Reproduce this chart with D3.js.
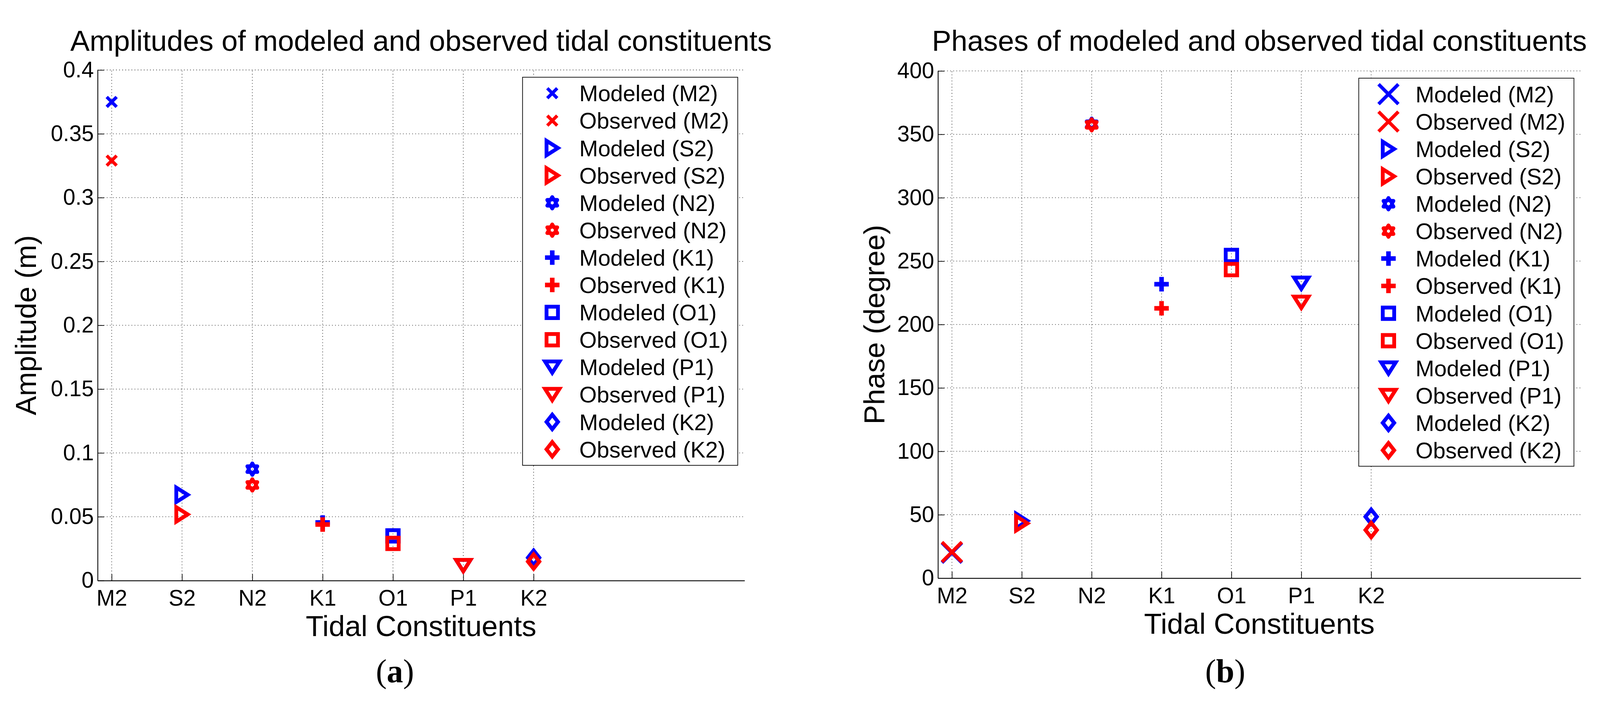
<!DOCTYPE html>
<html>
<head>
<meta charset="utf-8">
<script src="https://cdn.jsdelivr.net/npm/d3@7"></script>
<style>
html, body { margin: 0; padding: 0; background: #fff; overflow: hidden; }
#tideSvg { display: block; width: 100vw; height: 100vh; }
svg text { font-family: "Liberation Sans", Arial, sans-serif; fill: #000; }
.grid line { stroke: #000; stroke-width: 1.6; stroke-dasharray: 1.6,6.5; }
.axis path.domain { stroke: #000; stroke-width: 2.2; }
.axis .tick line { stroke: #000; stroke-width: 1.8; }
.mark { fill: none; }
</style>
</head>
<body>
<div class="tides"></div>
<script>
// tidal constituents, in plotting order
var categories = ["M2", "S2", "N2", "K1", "O1", "P1", "K2"];
var markerTypes = ["x", "triRight", "hexagram", "plus", "square", "triDown", "diamond"];

// amplitudes (m)
var ampModeled  = [0.375, 0.0672, 0.0873, 0.0455, 0.0350, 0.0117, 0.0179];
var ampObserved = [0.329, 0.0518, 0.0749, 0.0439, 0.0291, 0.0117, 0.0149];
var ampTicks = [0, 0.05, 0.1, 0.15, 0.2, 0.25, 0.3, 0.35, 0.4];
var ampTickLabels = ["0", "0.05", "0.1", "0.15", "0.2", "0.25", "0.3", "0.35", "0.4"];

// phases (degree)
var phaseModeled  = [20.0, 45.2, 358.0, 231.8, 254.5, 232.5, 48.4];
var phaseObserved = [20.6, 43.2, 357.5, 212.8, 243.3, 217.5, 37.9];
var phaseTicks = [0, 50, 100, 150, 200, 250, 300, 350, 400];
var phaseTickLabels = ["0", "50", "100", "150", "200", "250", "300", "350", "400"];

var colModeled = "#0000ff",
colObserved = "#ff0000";

var svg = d3.select("div.tides")
	.append("svg")
	.attr("viewBox", "0 0 4201 1812")
	.attr("preserveAspectRatio", "xMidYMid meet")
	.attr("id", "tideSvg");

// marker outlines, MATLAB style
var markerPath = function(type, big) {
	if (type == "x") {
		var h = big ? 26 : 13;
		return "M" + (-h) + "," + (-h) + "L" + h + "," + h + "M" + (-h) + "," + h + "L" + h + "," + (-h);
	}
	if (type == "plus") return "M-19,0L19,0M0,-19L0,19";
	if (type == "square") return "M-15,-15H15V15H-15Z";
	if (type == "triRight") return "M-15,-19L15,0L-15,19Z";
	if (type == "triDown") return "M-19,-15L19,-15L0,15Z";
	if (type == "diamond") return "M0,-19L15,0L0,19L-15,0Z";
	if (type == "hexagram") {
		var pts = [];
		for (var k = 0; k < 12; k++) {
			var r = k % 2 == 0 ? 15 : 15 / Math.sqrt(3);
			var a = -Math.PI / 2 + k * Math.PI / 6;
			pts.push([r * Math.cos(a), r * Math.sin(a)]);
		}
		return "M" + pts.map(function(p) { return p[0].toFixed(2) + "," + p[1].toFixed(2); }).join("L") + "Z";
	}
};

var markerStroke = function(type, big) {
	if (type == "x") return big ? 9 : 8.5;
	if (type == "plus") return 12;
	if (type == "hexagram") return 10;
	return 10;
};

var drawMarker = function(sel, type, color, big) {
	sel.append("path")
		.attr("d", markerPath(type, big))
		.attr("stroke", color)
		.attr("stroke-width", markerStroke(type, big))
		.attr("stroke-linejoin", type == "hexagram" ? "round" : "miter")
		.attr("stroke-linecap", "butt")
		.attr("class", "mark");
};

var buildPanel = function(p) {
	var g = svg.append("g");
	var gridLayer = g.append("g").attr("class", "grid");
	var axisLayer = g.append("g");
	var markLayer = g.append("g");
	var legendLayer = g.append("g");

	var x = d3.scaleLinear()
		.domain([0.8, 10])
		.range([p.left, p.right]);
	var y = d3.scaleLinear()
		.domain([p.ticks[0], p.ticks[p.ticks.length - 1]])
		.range([p.bottom, p.top]);
	var catIdx = d3.range(1, categories.length + 1);

	gridLayer.selectAll(".hgrid")
		.data(p.ticks.slice(1))
		.enter().append("line")
		.attr("x1", p.left)
		.attr("x2", p.right)
		.attr("y1", y)
		.attr("y2", y);
	gridLayer.selectAll(".vgrid")
		.data(catIdx)
		.enter().append("line")
		.attr("x1", x)
		.attr("x2", x)
		.attr("y1", p.bottom)
		.attr("y2", p.top);

	axisLayer.append("g")
		.attr("class", "axis")
		.attr("transform", "translate(0," + p.bottom + ")")
		.call(d3.axisBottom(x)
			.tickValues(catIdx)
			.tickFormat(function(d) { return categories[d - 1]; })
			.tickSizeInner(-17)
			.tickSizeOuter(0)
			.tickPadding(25));
	axisLayer.append("g")
		.attr("class", "axis")
		.attr("transform", "translate(" + p.left + ",0)")
		.call(d3.axisLeft(y)
			.tickValues(p.ticks)
			.tickFormat(function(d, i) { return p.tickLabels[i]; })
			.tickSizeInner(-17)
			.tickSizeOuter(0)
			.tickPadding(10));
	axisLayer.selectAll(".axis")
		.attr("font-size", 58)
		.attr("font-family", null);

	// one modeled + one observed marker per constituent, observed drawn on top
	categories.forEach(function(c, i) {
		var big = p.bigX && markerTypes[i] == "x";
		drawMarker(markLayer.append("g")
			.attr("transform", "translate(" + x(i + 1) + "," + y(p.modeled[i]) + ")"),
			markerTypes[i], colModeled, big);
		drawMarker(markLayer.append("g")
			.attr("transform", "translate(" + x(i + 1) + "," + y(p.observed[i]) + ")"),
			markerTypes[i], colObserved, big);
	});

	g.append("text")
		.attr("x", (p.left + p.right) / 2)
		.attr("y", 110)
		.attr("text-anchor", "middle")
		.attr("font-size", 76)
		.text(p.title);
	g.append("text")
		.attr("x", (p.left + p.right) / 2)
		.attr("y", p.bottom + 146)
		.attr("text-anchor", "middle")
		.attr("font-size", 76)
		.text("Tidal Constituents");
	g.append("text")
		.attr("transform", "translate(" + (p.left - p.ylabGap) + "," + ((p.top + p.bottom) / 2) + ") rotate(-90)")
		.attr("text-anchor", "middle")
		.attr("font-size", 76)
		.text(p.ylabel);

	// legend
	var entries = [];
	categories.forEach(function(c, i) {
		entries.push({ label: "Modeled (" + c + ")", type: markerTypes[i], color: colModeled });
		entries.push({ label: "Observed (" + c + ")", type: markerTypes[i], color: colObserved });
	});
	var lw = 565, rowH = 71.9, lx = p.right - 18 - lw, ly = p.top + 19;
	legendLayer.append("rect")
		.attr("x", lx)
		.attr("y", ly)
		.attr("width", lw)
		.attr("height", rowH * 13 + 84)
		.attr("fill", "#fff")
		.attr("stroke", "#000")
		.attr("stroke-width", 1.8);
	var rows = legendLayer.selectAll(".legRow")
		.data(entries)
		.enter().append("g")
		.attr("class", "legRow")
		.attr("transform", function(d, i) { return "translate(" + lx + "," + (ly + 42 + i * rowH) + ")"; });
	rows.each(function(d) {
		drawMarker(d3.select(this).append("g").attr("transform", "translate(78,0)"),
			d.type, d.color, p.bigX && d.type == "x");
	});
	rows.append("text")
		.attr("x", 149)
		.attr("dy", "0.36em")
		.attr("font-size", 59)
		.text(function(d) { return d.label; });

	g.append("text")
		.attr("x", p.capX)
		.attr("y", 1768)
		.attr("text-anchor", "middle")
		.attr("font-size", 86)
		.style("font-family", "'Liberation Serif', 'Times New Roman', serif")
		.html("(<tspan font-weight='bold'>" + p.cap + "</tspan>)");
};

buildPanel({
	left: 256.3, right: 1955, top: 160.5, bottom: 1500.7,
	ticks: ampTicks, tickLabels: ampTickLabels,
	modeled: ampModeled, observed: ampObserved,
	title: "Amplitudes of modeled and observed tidal constituents",
	ylabel: "Amplitude (m)", ylabGap: 162,
	bigX: false, cap: "a", capX: 1037
});

buildPanel({
	left: 2462.7, right: 4150.6, top: 163, bottom: 1494.3,
	ticks: phaseTicks, tickLabels: phaseTickLabels,
	modeled: phaseModeled, observed: phaseObserved,
	title: "Phases of modeled and observed tidal constituents",
	ylabel: "Phase (degree)", ylabGap: 141,
	bigX: true, cap: "b", capX: 3217
});
</script>
</body>
</html>
